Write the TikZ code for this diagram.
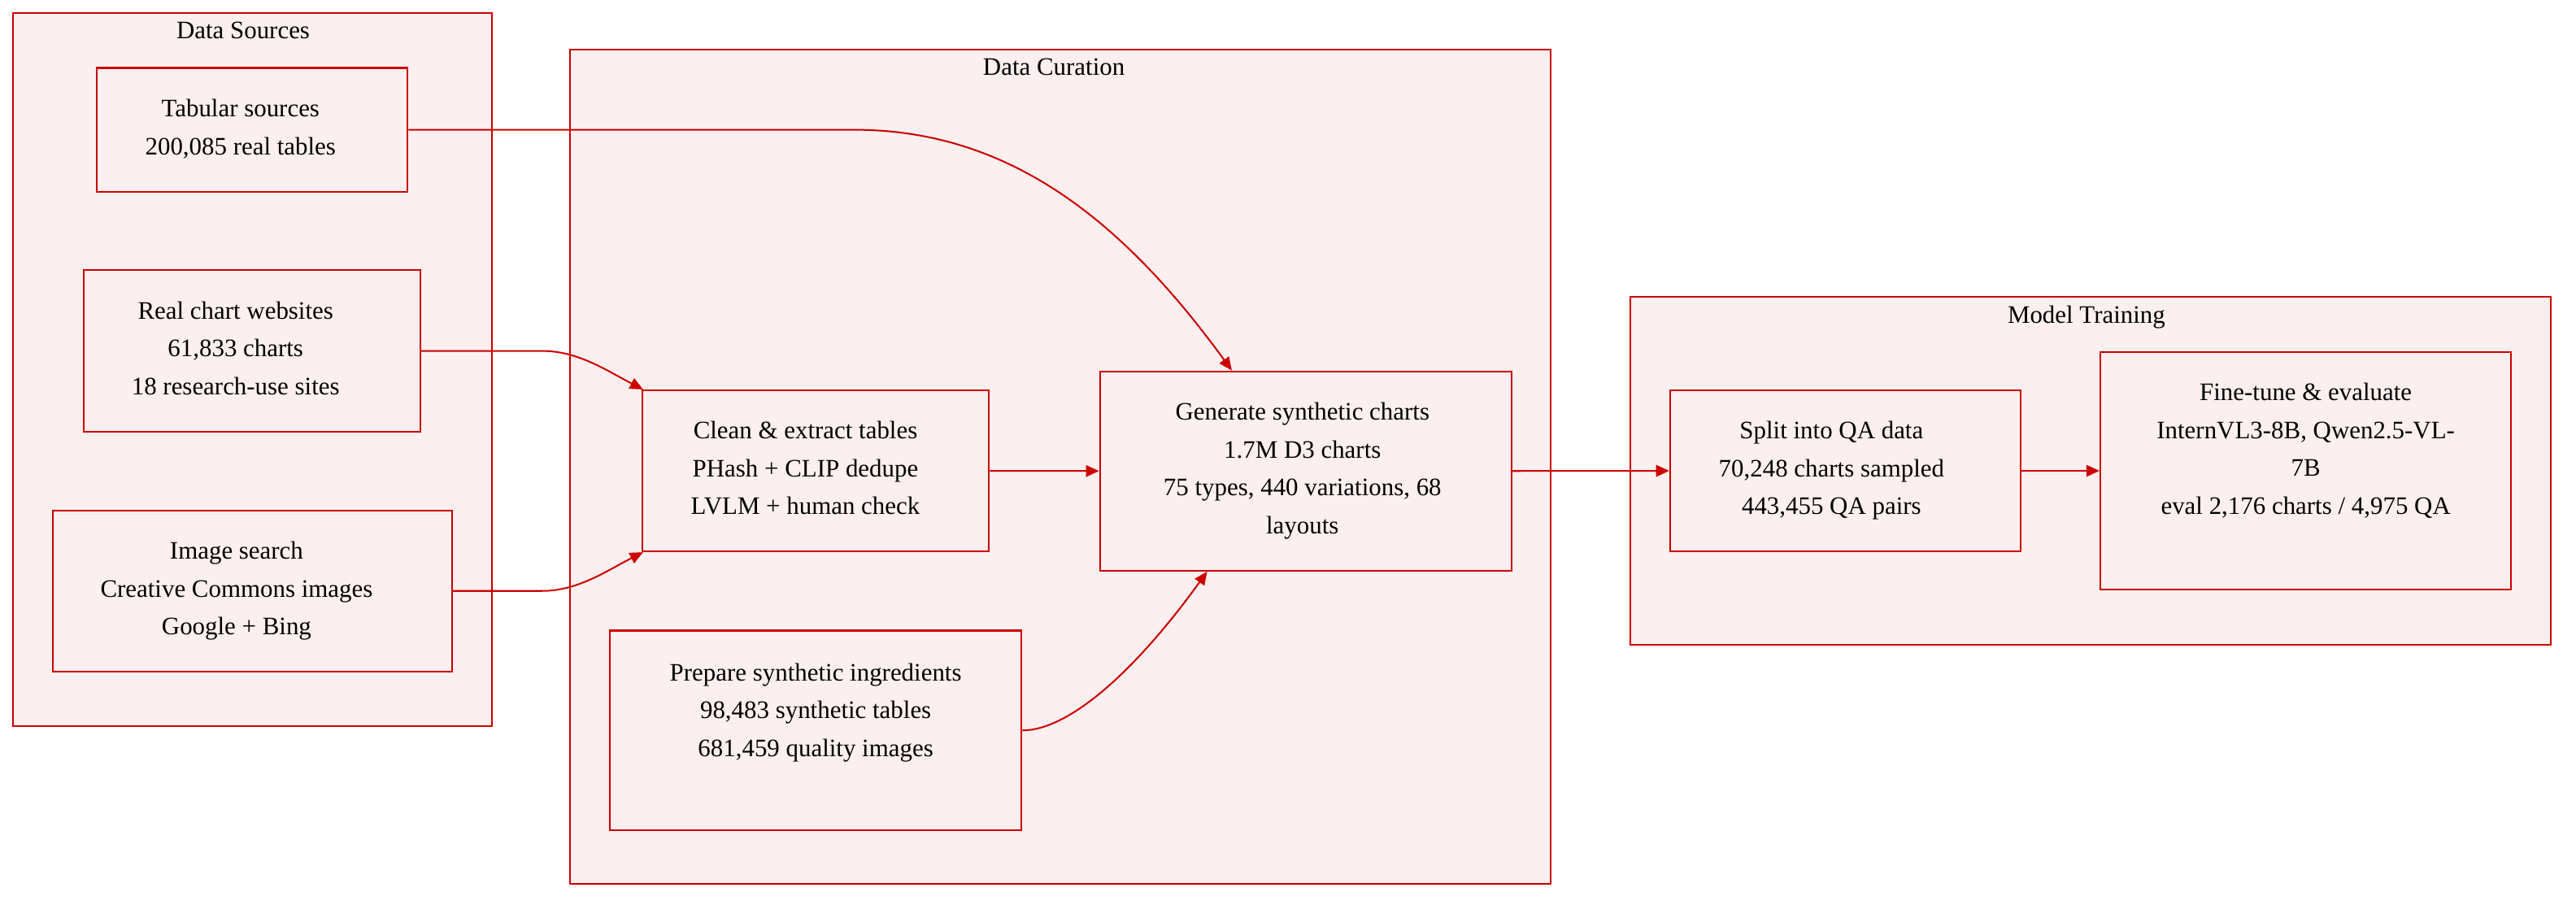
\documentclass[tikz,border=0pt]{standalone}
\usepackage{fontspec}
\setmainfont{Liberation Serif}
\usetikzlibrary{arrows.meta}
\definecolor{boxfill}{RGB}{252,239,239}
\definecolor{boxline}{RGB}{204,0,0}
% centred lines, with extra room on the right
\newcommand{\stagelines}[2]{\begin{tabular}{@{}c@{\hspace{#1}}}#2\\[2pt]\end{tabular}}

\begin{document}
\begin{tikzpicture}[x=1pt,y=-1pt,
        group/.style={draw=boxline,fill=boxfill,line width=1pt,inner sep=0pt},
        grouptitle/.style={anchor=base,inner sep=0pt,font=\fontsize{15.3}{23}\selectfont},
        stage/.style={draw=boxline,fill=boxfill,line width=1.1pt,inner sep=0pt,align=center,
                      font=\fontsize{15.3}{23}\selectfont},
        flow/.style={draw=boxline,line width=1pt,-{Triangle[length=8pt,width=7pt]}}]
        \useasboundingbox (0,0) rectangle (1568,550.4);

        % Groups
        \node (sources)  at (153.5,225)   [group,minimum width=291.5pt,minimum height=434pt] {};
        \node (curation) at (645.5,284)   [group,minimum width=597pt,minimum height=508pt] {};
        \node (training) at (1272.5,286.6) [group,minimum width=560.3pt,minimum height=211.8pt] {};
        \node (sourcestitle)  at (148,23.4)    [grouptitle] {Data Sources};
        \node (curationtitle) at (641.5,46)    [grouptitle] {Data Curation};
        \node (trainingtitle) at (1270,196.5)  [grouptitle] {Model Training};

        % Data sources
        \node (tabular)  at (153.4,79)    [stage,minimum width=189.3pt,minimum height=75.3pt] {\stagelines{14pt}{Tabular sources\\200,085 real tables}};
        \node (websites) at (153.4,213.6) [stage,minimum width=205pt,minimum height=98.5pt] {\stagelines{20pt}{Real chart websites\\61,833 charts\\18 research-use sites}};
        \node (imgsearch) at (153.5,359.7) [stage,minimum width=243pt,minimum height=98pt] {\stagelines{19pt}{Image search\\Creative Commons images\\Google + Bing}};

        % Curation steps
        \node (clean)    at (496.5,286.6) [stage,minimum width=211pt,minimum height=98pt] {\stagelines{12.5pt}{Clean \& extract tables\\PHash + CLIP dedupe\\LVLM + human check}};
        \node (generate) at (794.8,286.7) [stage,minimum width=250.5pt,minimum height=121.3pt] {\stagelines{4pt}{Generate synthetic charts\\1.7M D3 charts\\75 types, 440 variations, 68\\layouts}};
        \node (prepare)  at (496.5,444.6) [stage,minimum width=250.5pt,minimum height=121.5pt,text depth=25pt] {Prepare synthetic ingredients\\98,483 synthetic tables\\681,459 quality images};

        % Training steps
        \node (split)    at (1123.3,286.6) [stage,minimum width=213.4pt,minimum height=98pt] {\stagelines{17pt}{Split into QA data\\70,248 charts sampled\\443,455 QA pairs}};
        \node (finetune) at (1403.5,286.6) [stage,minimum width=250pt,minimum height=144.4pt,text depth=27pt] {Fine-tune \& evaluate\\InternVL3-8B, Qwen2.5-VL-\\7B\\eval 2,176 charts / 4,975 QA};

        % Curved feeds into curation
        \draw[flow] (tabular.east) -- (520,79) .. controls (615,79) and (684,135) .. ([xshift=-45pt]generate.north);
        \draw[flow] (websites.east) -- (330,213.6) .. controls (352,213.6) and (370,226) .. ([xshift=1pt]clean.north west);
        \draw[flow] (imgsearch.east) -- (330,359.7) .. controls (352,359.7) and (370,347) .. ([xshift=1pt]clean.south west);
        \draw[flow] (prepare.east) .. controls (650,444.6) and (690,410) .. ([xshift=-60pt]generate.south);

        % Straight pipeline
        \draw[flow] (clean.east) -- (generate.west);
        \draw[flow] (generate.east) -- (split.west);
        \draw[flow] (split.east) -- (finetune.west);
\end{tikzpicture}
\end{document}
